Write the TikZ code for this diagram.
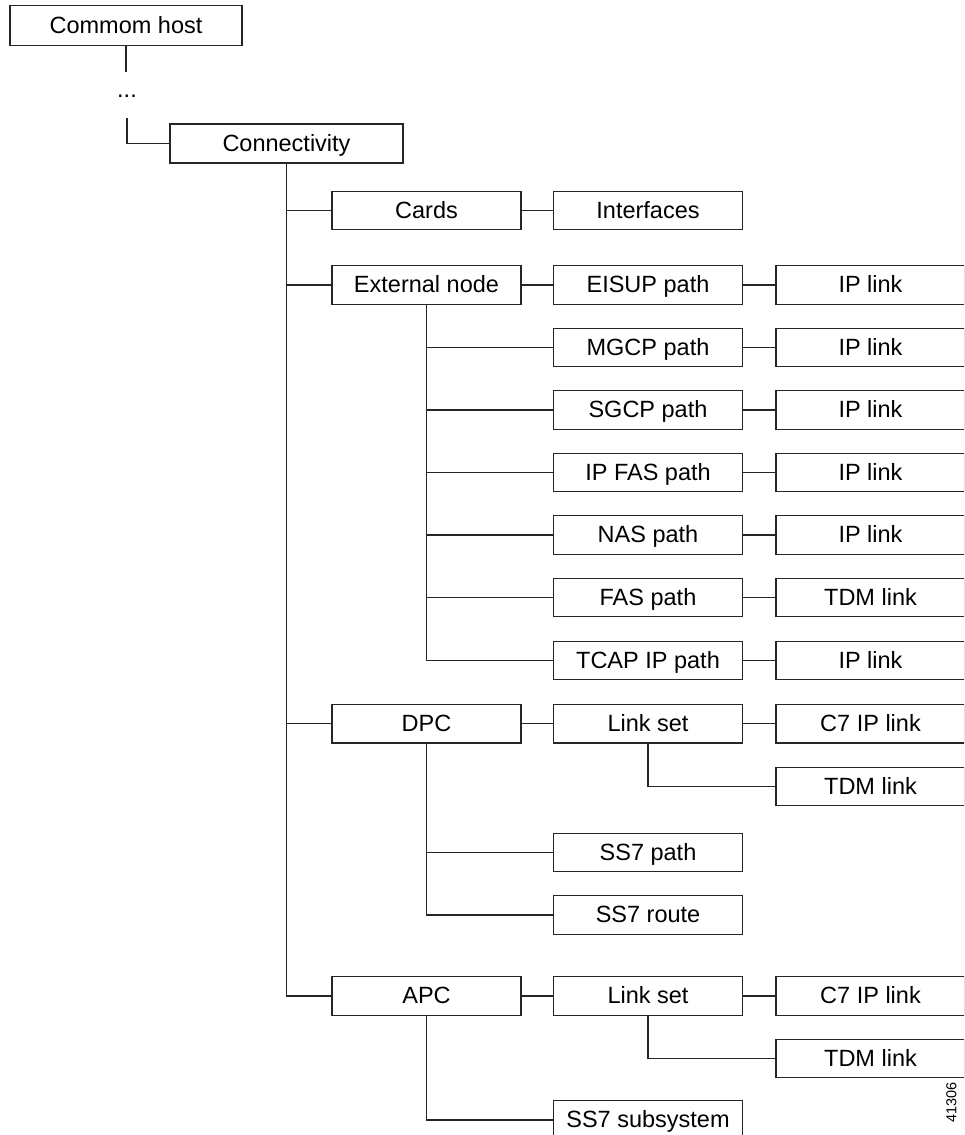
\documentclass[tikz,border=0pt]{standalone}
\usepackage{fontspec}
\setmainfont{Liberation Sans}
\begin{document}
\begin{tikzpicture}[x=1pt,y=-1pt,
  box/.style={draw=black!85,line width=1.2pt,minimum width=189pt,minimum height=38.5pt,inner sep=0pt,
    font=\fontsize{23.5}{28}\selectfont,text height=17pt,text depth=2pt},
  conn/.style={draw=black!85,line width=1.2pt}]
\useasboundingbox (0,0) rectangle (964,1135);
\clip (0,0) rectangle (964,1135);
% top
\node[box,minimum width=232pt,minimum height=40pt] (host) at (126,25.5) {Commom host};
\node[font=\fontsize{23.5}{28}\selectfont,inner sep=0pt,anchor=base] (dots) at (127,97) {...};
\node[box,minimum width=233pt,minimum height=39pt] (cn) at (286.5,143.5) {Connectivity};
\coordinate (h1) at (126,72);
\coordinate (h2) at (127,118);
\draw[conn] (host.south) -- (h1);
\draw[conn] (h2) |- (cn.west);
% level 1
\node[box] (cards) at (426.5,210.5) {Cards};
\node[box] (ext) at (426.5,285) {External node};
\node[box] (dpc) at (426.5,723.7) {DPC};
\node[box] (apc) at (426.5,996) {APC};
\foreach \n in {cards,ext,dpc,apc} \draw[conn] (cn.south) |- (\n.west);
% level 2
\node[box] (intf) at (648,210.5) {Interfaces};
\node[box] (eisup) at (648,285) {EISUP path};
\node[box] (mgcp) at (648,347.5) {MGCP path};
\node[box] (sgcp) at (648,410) {SGCP path};
\node[box] (ipfas) at (648,472.5) {IP FAS path};
\node[box] (nas) at (648,535) {NAS path};
\node[box] (fas) at (648,597.5) {FAS path};
\node[box] (tcap) at (648,660.5) {TCAP IP path};
\node[box] (ls1) at (648,723.7) {Link set};
\node[box] (ss7p) at (648,852.5) {SS7 path};
\node[box] (ss7r) at (648,915) {SS7 route};
\node[box] (ls2) at (648,996) {Link set};
\node[box] (ss7s) at (648,1120) {SS7 subsystem};
\draw[conn] (cards) -- (intf);
\draw[conn] (ext) -- (eisup);
\foreach \n in {mgcp,sgcp,ipfas,nas,fas,tcap} \draw[conn] (ext.south) |- (\n.west);
\draw[conn] (dpc) -- (ls1);
\foreach \n in {ss7p,ss7r} \draw[conn] (dpc.south) |- (\n.west);
\draw[conn] (apc) -- (ls2);
\draw[conn] (apc.south) |- (ss7s.west);
% level 3
\node[box] (ip1) at (870.5,285) {IP link};
\node[box] (ip2) at (870.5,347.5) {IP link};
\node[box] (ip3) at (870.5,410) {IP link};
\node[box] (ip4) at (870.5,472.5) {IP link};
\node[box] (ip5) at (870.5,535) {IP link};
\node[box] (tdm0) at (870.5,597.5) {TDM link};
\node[box] (ip6) at (870.5,660.5) {IP link};
\node[box] (c7a) at (870.5,723.7) {C7 IP link};
\node[box] (tdma) at (870.5,786.5) {TDM link};
\node[box] (c7b) at (870.5,996) {C7 IP link};
\node[box] (tdmb) at (870.5,1058.5) {TDM link};
\draw[conn] (eisup) -- (ip1);
\draw[conn] (mgcp) -- (ip2);
\draw[conn] (sgcp) -- (ip3);
\draw[conn] (ipfas) -- (ip4);
\draw[conn] (nas) -- (ip5);
\draw[conn] (fas) -- (tdm0);
\draw[conn] (tcap) -- (ip6);
\draw[conn] (ls1) -- (c7a);
\draw[conn] (ls1.south) |- (tdma.west);
\draw[conn] (ls2) -- (c7b);
\draw[conn] (ls2.south) |- (tdmb.west);
% figure number
\node[rotate=90,font=\fontsize{14.4}{17}\selectfont,inner sep=0pt] (fig) at (951.5,1102) {41306};
\end{tikzpicture}
\end{document}
